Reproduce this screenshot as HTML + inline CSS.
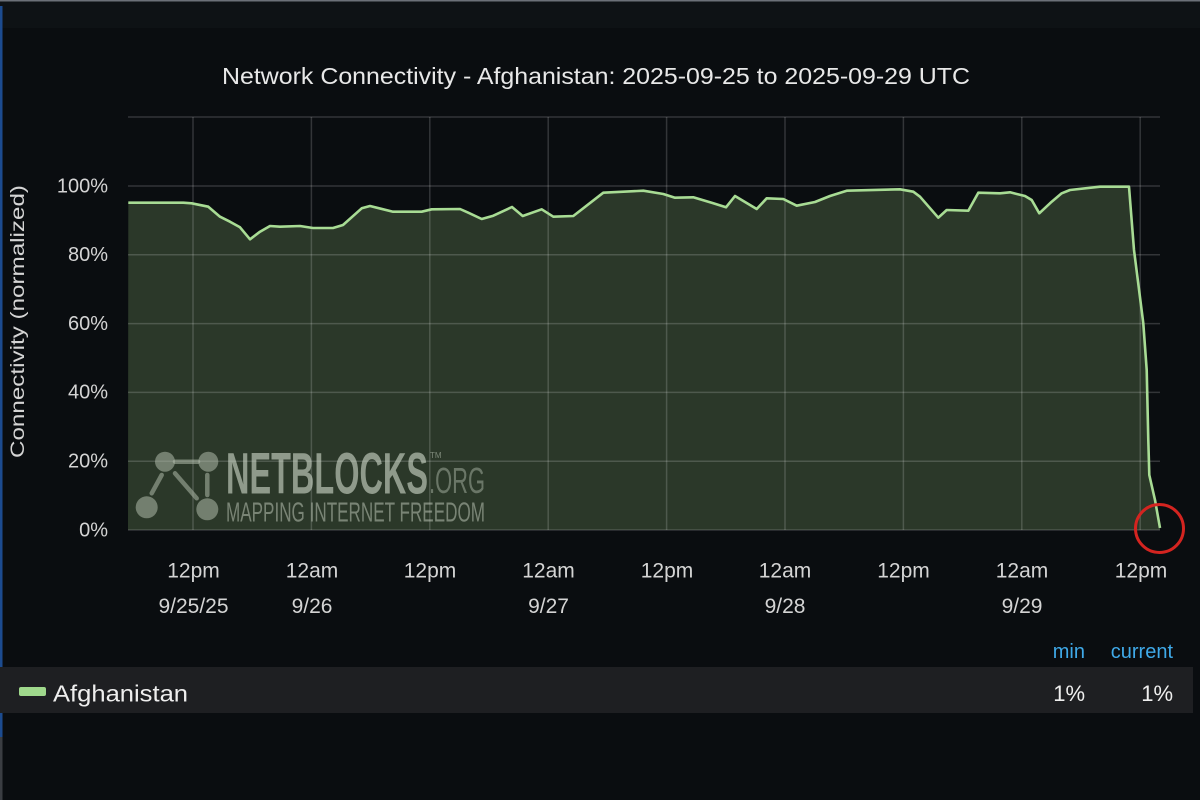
<!DOCTYPE html>
<html>
<head>
<meta charset="utf-8">
<style>
html,body{margin:0;padding:0;background:#0a0d10;}
body{width:1200px;height:800px;overflow:hidden;}
svg{display:block;}
</style>
</head>
<body>
<svg width="1200" height="800" viewBox="0 0 1200 800" xmlns="http://www.w3.org/2000/svg" font-family="'Liberation Sans', sans-serif">
  <!-- background -->
  <rect x="0" y="0" width="1200" height="800" fill="#0a0d10"/>
  <rect x="0" y="0" width="1200" height="28" fill="#0e1215"/>
  <rect x="0" y="0" width="1200" height="1.5" fill="#6b7078"/>
  <rect x="0" y="6" width="2.5" height="731" fill="#1c4b8f"/>
  <rect x="0" y="737" width="2.5" height="63" fill="#3a3d42"/>

  <!-- title -->
  <text x="222" y="84" font-size="23" fill="#e8e8e8" textLength="748" lengthAdjust="spacingAndGlyphs">Network Connectivity - Afghanistan: 2025-09-25 to 2025-09-29 UTC</text>

  <!-- area fill -->
  <path fill="#2b3829" d="M128,530 L128.3,202.7 L183.3,202.7 L191.7,203.3 L208.3,206.7 L220,216.7 L230,221.7 L240,227.3 L250,239.3 L260,231.7 L270,226 L280,226.7 L300,226 L313,228 L333,228 L343,225 L361.7,208.3 L370,206 L393,211.7 L421.7,211.7 L431.7,209.3 L460,209 L468.3,212.7 L481.7,219 L493.3,215.7 L512,207 L522.7,216 L541.7,209.3 L553.3,216.7 L573.3,216 L603.3,192.7 L643.3,190.7 L663.3,194 L675,197.7 L693.3,197.3 L713.3,203.3 L726,207.3 L735,196 L756.7,209 L766.7,198.3 L783.3,199 L796.7,205.7 L815,202 L830,196 L846.7,190.7 L900,189.3 L913.3,191.7 L920,196.7 L938.3,217.7 L946.7,210 L968.3,210.7 L978.3,192.7 L1000,193.3 L1010,192.3 L1025,196 L1031.7,200 L1039.3,213.3 L1051.7,201.7 L1061.7,193.3 L1070,190 L1100,186.7 L1129,186.7 L1134,250 L1143.3,323.3 L1146.7,370 L1148.3,440 L1149.3,475 L1155,500 L1160,528 L1160,530 Z"/>

  <!-- gridlines -->
  <g stroke="rgba(255,255,255,0.17)" stroke-width="1.5">
    <line x1="128" y1="117" x2="1160" y2="117"/>
    <line x1="128" y1="186" x2="1160" y2="186"/>
    <line x1="128" y1="254.8" x2="1160" y2="254.8"/>
    <line x1="128" y1="323.6" x2="1160" y2="323.6"/>
    <line x1="128" y1="392.4" x2="1160" y2="392.4"/>
    <line x1="128" y1="461.2" x2="1160" y2="461.2"/>
    <line x1="128" y1="530" x2="1160" y2="530"/>
    <line x1="193" y1="117" x2="193" y2="530"/>
    <line x1="311.4" y1="117" x2="311.4" y2="530"/>
    <line x1="429.8" y1="117" x2="429.8" y2="530"/>
    <line x1="548.2" y1="117" x2="548.2" y2="530"/>
    <line x1="666.6" y1="117" x2="666.6" y2="530"/>
    <line x1="785" y1="117" x2="785" y2="530"/>
    <line x1="903.4" y1="117" x2="903.4" y2="530"/>
    <line x1="1021.8" y1="117" x2="1021.8" y2="530"/>
    <line x1="1140.2" y1="117" x2="1140.2" y2="530"/>
  </g>

  <!-- watermark -->
  <g>
    <g stroke="rgba(175,185,170,0.55)" stroke-width="4.5" stroke-linecap="round">
      <line x1="175" y1="461.7" x2="198" y2="461.7"/>
      <line x1="161.7" y1="475" x2="151.7" y2="493.3"/>
      <line x1="175" y1="473.3" x2="196.7" y2="498.3"/>
      <line x1="207.3" y1="475" x2="207.3" y2="495"/>
    </g>
    <g fill="rgba(175,185,170,0.55)">
      <circle cx="165" cy="461.7" r="10"/>
      <circle cx="208.3" cy="461.7" r="10"/>
      <circle cx="146.7" cy="507.3" r="11"/>
      <circle cx="207.3" cy="509.3" r="11"/>
    </g>
    <text x="226" y="493.3" font-family="'Liberation Sans Narrow','Liberation Sans',sans-serif" font-weight="bold" font-size="58" fill="rgba(205,215,200,0.62)" textLength="202" lengthAdjust="spacingAndGlyphs">NETBLOCKS</text>
    <text x="430" y="458" font-size="8" fill="rgba(205,215,200,0.5)">TM</text>
    <text x="429" y="493" font-family="'Liberation Sans Narrow','Liberation Sans',sans-serif" font-size="36" fill="rgba(185,195,180,0.45)" textLength="56" lengthAdjust="spacingAndGlyphs">.ORG</text>
    <text x="226" y="521.7" font-family="'Liberation Sans Narrow','Liberation Sans',sans-serif" font-size="27.5" fill="rgba(185,195,180,0.55)" textLength="259" lengthAdjust="spacingAndGlyphs">MAPPING INTERNET FREEDOM</text>
  </g>

  <!-- series line -->
  <polyline fill="none" stroke="#a8dc94" stroke-width="2.6" stroke-linejoin="round" points="128.3,202.7 183.3,202.7 191.7,203.3 208.3,206.7 220,216.7 230,221.7 240,227.3 250,239.3 260,231.7 270,226 280,226.7 300,226 313,228 333,228 343,225 361.7,208.3 370,206 393,211.7 421.7,211.7 431.7,209.3 460,209 468.3,212.7 481.7,219 493.3,215.7 512,207 522.7,216 541.7,209.3 553.3,216.7 573.3,216 603.3,192.7 643.3,190.7 663.3,194 675,197.7 693.3,197.3 713.3,203.3 726,207.3 735,196 756.7,209 766.7,198.3 783.3,199 796.7,205.7 815,202 830,196 846.7,190.7 900,189.3 913.3,191.7 920,196.7 938.3,217.7 946.7,210 968.3,210.7 978.3,192.7 1000,193.3 1010,192.3 1025,196 1031.7,200 1039.3,213.3 1051.7,201.7 1061.7,193.3 1070,190 1100,186.7 1129,186.7 1134,250 1143.3,323.3 1146.7,370 1148.3,440 1149.3,475 1155,500 1160,528"/>

  <!-- red circle -->
  <circle cx="1159.5" cy="528.5" r="24" fill="none" stroke="#d42420" stroke-width="3"/>

  <!-- y axis labels -->
  <g font-size="20" fill="#d4d4d4" text-anchor="end">
    <text x="108" y="192.5">100%</text>
    <text x="108" y="261">80%</text>
    <text x="108" y="330">60%</text>
    <text x="108" y="398.5">40%</text>
    <text x="108" y="467.5">20%</text>
    <text x="108" y="536.5">0%</text>
  </g>
  <text transform="translate(24,321.5) rotate(-90)" text-anchor="middle" font-size="19" fill="#d4d4d4" textLength="273" lengthAdjust="spacingAndGlyphs">Connectivity (normalized)</text>

  <!-- x axis labels -->
  <g font-size="21" fill="#d4d4d4" text-anchor="middle">
    <text x="193.5" y="577.5">12pm</text>
    <text x="193.5" y="613">9/25/25</text>
    <text x="312" y="577.5">12am</text>
    <text x="312" y="613">9/26</text>
    <text x="430" y="577.5">12pm</text>
    <text x="548.5" y="577.5">12am</text>
    <text x="548.5" y="613">9/27</text>
    <text x="667" y="577.5">12pm</text>
    <text x="785" y="577.5">12am</text>
    <text x="785" y="613">9/28</text>
    <text x="903.5" y="577.5">12pm</text>
    <text x="1022" y="577.5">12am</text>
    <text x="1022" y="613">9/29</text>
    <text x="1141" y="577.5">12pm</text>
  </g>

  <!-- legend -->
  <text x="1085" y="658" font-size="20" fill="#3fa9e8" text-anchor="end">min</text>
  <text x="1173" y="658" font-size="20" fill="#3fa9e8" text-anchor="end">current</text>
  <rect x="0" y="667" width="1193" height="46" fill="#1e1f22"/>
  <rect x="19" y="687" width="27" height="9" rx="2" fill="#9fd88c"/>
  <text x="53" y="701.5" font-size="23" fill="#eeeeee" textLength="135" lengthAdjust="spacingAndGlyphs">Afghanistan</text>
  <text x="1085" y="701" font-size="22" fill="#eeeeee" text-anchor="end">1%</text>
  <text x="1173" y="701" font-size="22" fill="#eeeeee" text-anchor="end">1%</text>
</svg>
</body>
</html>
